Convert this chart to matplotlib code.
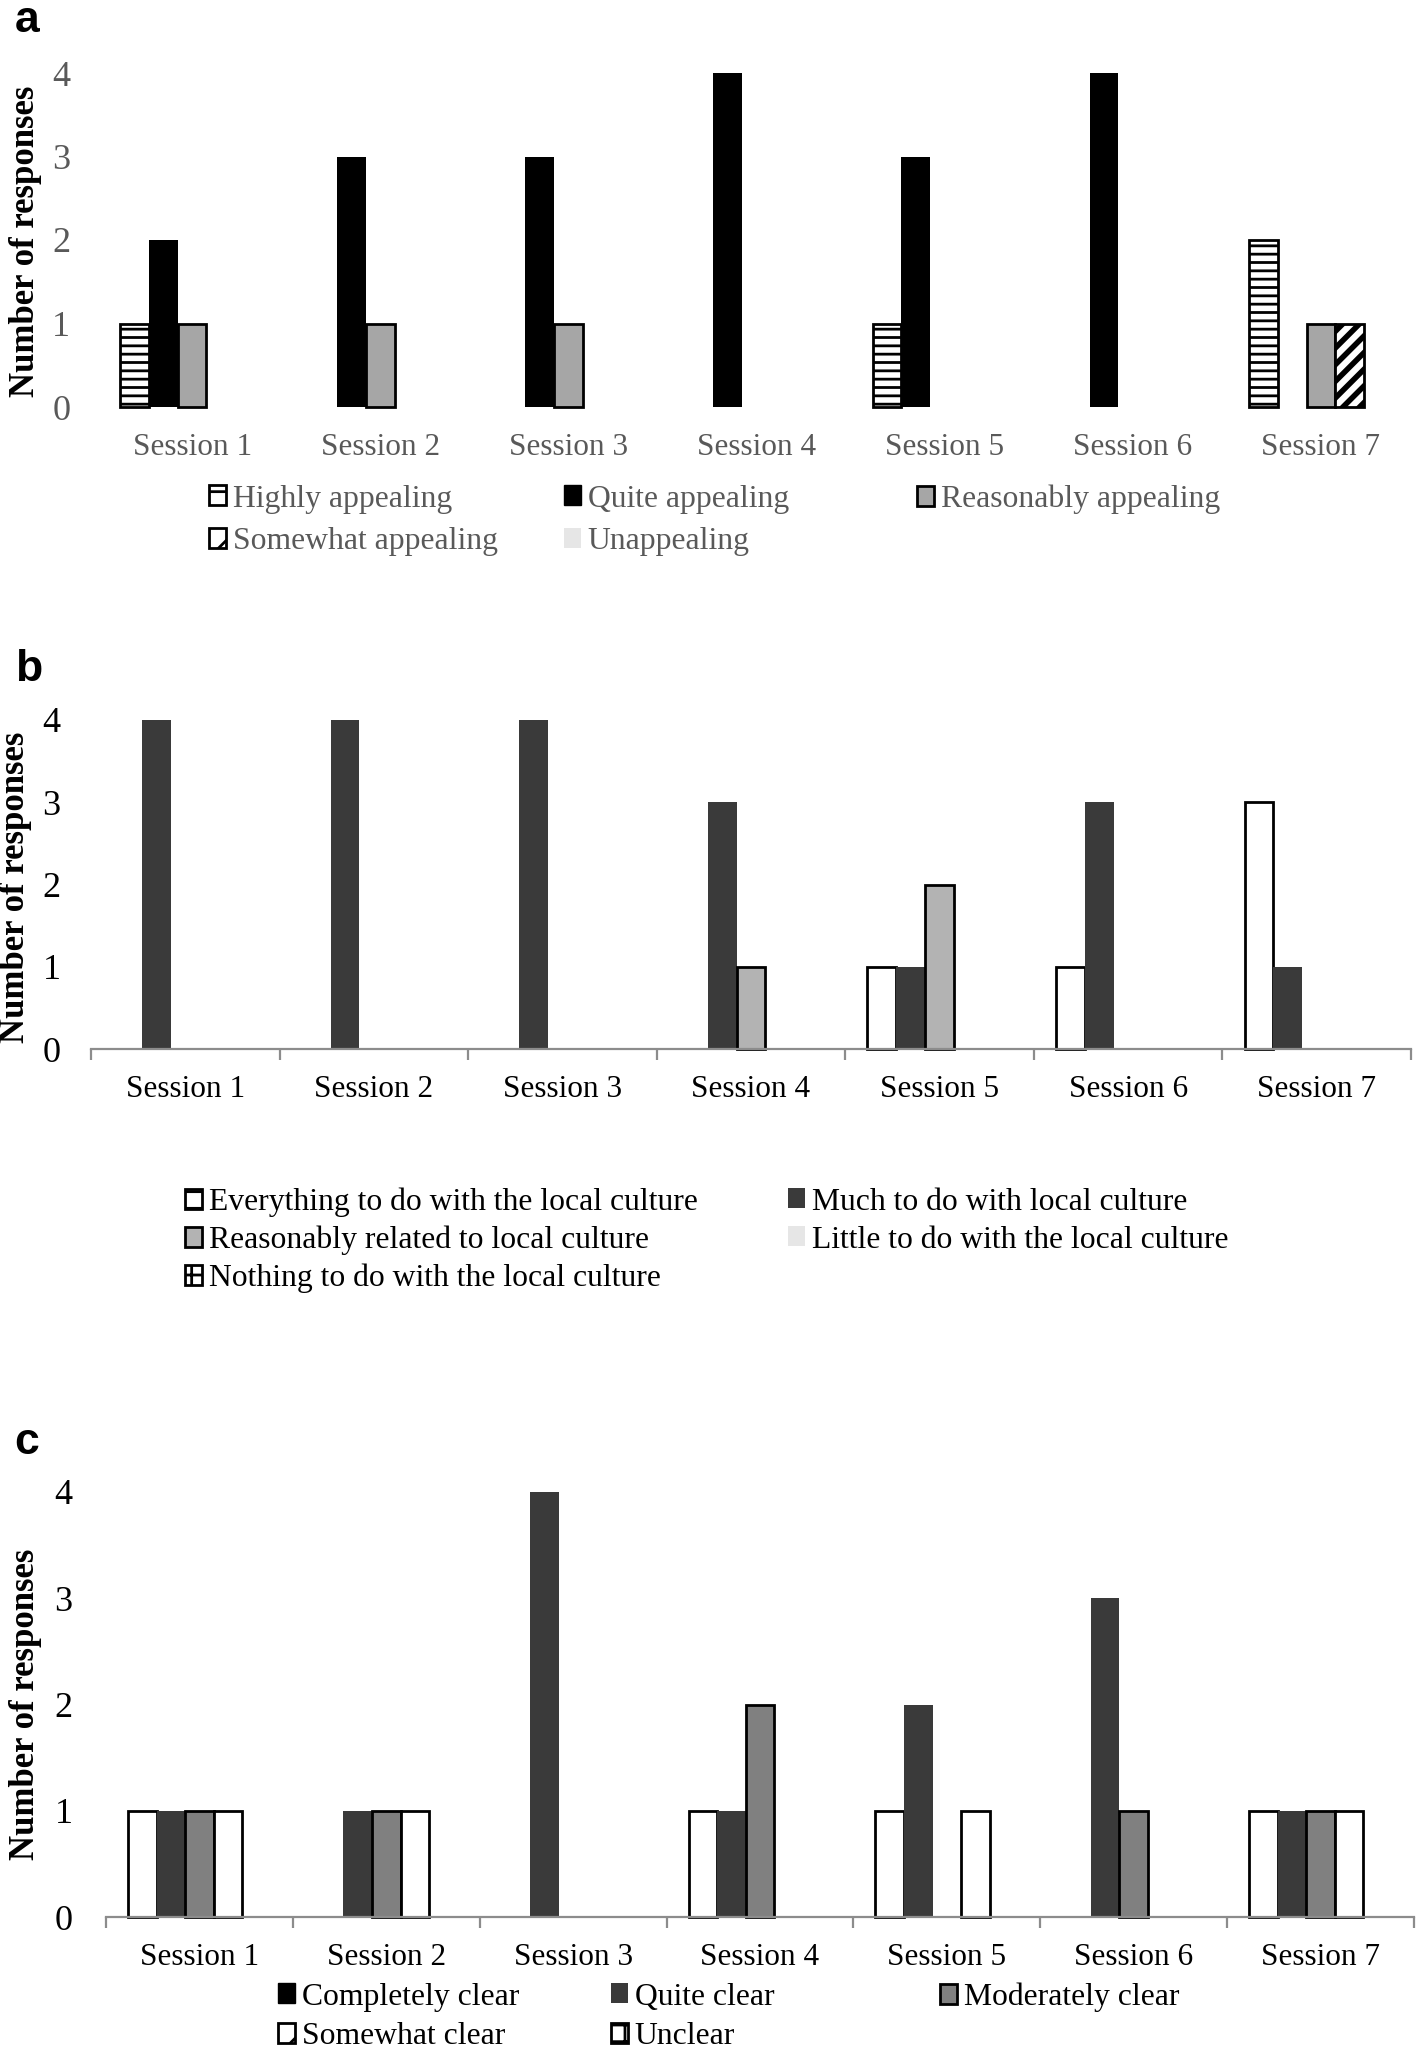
import numpy as np
import matplotlib
matplotlib.use("Agg")
import matplotlib.pyplot as plt
from matplotlib.patches import Patch

plt.rcParams['font.family'] = ['Liberation Serif', 'DejaVu Serif']
plt.rcParams['hatch.linewidth'] = 2.0

# ---- data ----
sessions = ['Session 1', 'Session 2', 'Session 3', 'Session 4',
            'Session 5', 'Session 6', 'Session 7']

# (a) appeal
appeal_labels = ['Highly appealing', 'Quite appealing', 'Reasonably appealing',
                 'Somewhat appealing', 'Unappealing']
highly_appealing = [1, 0, 0, 0, 1, 0, 2]
quite_appealing = [2, 3, 3, 4, 3, 4, 0]
reasonably_appealing = [1, 1, 1, 0, 0, 0, 1]
somewhat_appealing = [0, 0, 0, 0, 0, 0, 1]
unappealing = [0, 0, 0, 0, 0, 0, 0]

# (b) relation to local culture
culture_labels = ['Everything to do with the local culture', 'Much to do with local culture',
                  'Reasonably related to local culture', 'Little to do with the local culture',
                  'Nothing to do with the local culture']
everything_culture = [0, 0, 0, 0, 1, 1, 3]
much_culture = [4, 4, 4, 3, 1, 3, 1]
reasonably_culture = [0, 0, 0, 1, 2, 0, 0]
little_culture = [0, 0, 0, 0, 0, 0, 0]
nothing_culture = [0, 0, 0, 0, 0, 0, 0]

# (c) clarity
clarity_labels = ['Completely clear', 'Quite clear', 'Moderately clear',
                  'Somewhat clear', 'Unclear']
completely_clear = [1, 0, 0, 1, 1, 0, 1]
quite_clear = [1, 1, 4, 1, 2, 3, 1]
moderately_clear = [1, 1, 0, 2, 0, 1, 1]
somewhat_clear = [1, 1, 0, 0, 1, 0, 1]
unclear = [0, 0, 0, 0, 0, 0, 0]

W, H = 1416, 2047
fig = plt.figure(figsize=(W / 100, H / 100), dpi=100)
fig.patch.set_facecolor('white')

GRAY_TXT = '#595959'
AXIS_GRAY = '#8c8c8c'
BAR_W = 0.153
LEG_FS = 22.8


def px_axes(left, top, right, bottom):
    return fig.add_axes([left / W, 1 - bottom / H, (right - left) / W, (bottom - top) / H])


def draw_series(ax, series, styles):
    x = np.arange(len(sessions))
    n = len(series)
    for k, (vals, st) in enumerate(zip(series, styles)):
        vals = np.asarray(vals, dtype=float)
        keep = vals > 0
        if not keep.any():
            continue
        st = dict(st)
        hlw = st.pop('hatch_lw', 2.0)
        with plt.rc_context({'hatch.linewidth': hlw}):
            ax.bar(x[keep] + (k - (n - 1) / 2) * BAR_W, vals[keep], width=BAR_W,
                   clip_on=False, **st)


def style_axes(ax, txt_color, show_axis_line, ytick_pad):
    ax.set_xlim(-0.5, len(sessions) - 0.5)
    ax.set_ylim(0, 4)
    ax.set_yticks([0, 1, 2, 3, 4])
    ax.set_xticks(np.arange(len(sessions)))
    ax.set_xticklabels(sessions)
    for s in ['top', 'right', 'left']:
        ax.spines[s].set_visible(False)
    ax.tick_params(axis='y', length=0, pad=ytick_pad, labelsize=26, labelcolor=txt_color)
    ax.tick_params(axis='x', which='major', length=0, pad=18.5, labelsize=22.5, labelcolor=txt_color)
    if show_axis_line:
        ax.spines['bottom'].set_color(AXIS_GRAY)
        ax.spines['bottom'].set_linewidth(1.6)
        ax.set_xticks(np.arange(len(sessions) + 1) - 0.5, minor=True)
        ax.tick_params(axis='x', which='minor', length=8, width=1.6, color=AXIS_GRAY, direction='out')
    else:
        ax.spines['bottom'].set_visible(False)


def put_legend(handle, label, x, y, color):
    leg = fig.legend(handles=[handle], labels=[label], loc='center left',
                     bbox_to_anchor=(x / W, 1 - y / H), frameon=False, borderpad=0,
                     borderaxespad=0, handlelength=0.55, handleheight=0.6,
                     handletextpad=0.2, fontsize=LEG_FS, labelcolor=color)
    return leg


def ylabel(x, y):
    fig.text(x / W, 1 - y / H, 'Number of responses', rotation=90, ha='center', va='center',
             fontsize=25, fontweight='bold')


def panel_letter(s, x, y):
    fig.text(x / W, 1 - y / H, s, ha='center', va='center', fontsize=32,
             fontweight='bold', family='Liberation Sans')


# ---------------- panel a ----------------
ax_a = px_axes(98, 73, 1415, 407)
styles_a = [
    dict(color='white', edgecolor='black', linewidth=2, hatch='--'),
    dict(color='black', edgecolor='black', linewidth=0),
    dict(color='#a6a6a6', edgecolor='black', linewidth=2),
    dict(color='white', edgecolor='black', linewidth=2, hatch='//', hatch_lw=4.0),
    dict(color='#e6e6e6', edgecolor='none'),
]
draw_series(ax_a, [highly_appealing, quite_appealing, reasonably_appealing,
                   somewhat_appealing, unappealing], styles_a)
style_axes(ax_a, GRAY_TXT, False, 20)
ylabel(26, 241)
panel_letter('a', 27, 20)

hand_a = [
    Patch(facecolor='white', edgecolor='black', linewidth=2, hatch='-'),
    Patch(facecolor='black', edgecolor='black', linewidth=1),
    Patch(facecolor='#a6a6a6', edgecolor='black', linewidth=2),
    Patch(facecolor='white', edgecolor='black', linewidth=2, hatch='/'),
    Patch(facecolor='#e6e6e6', edgecolor='none'),
]
pos_a = [(209, 499), (564, 499), (917, 499), (209, 542), (564, 542)]
for h, lab, (px, py) in zip(hand_a, appeal_labels, pos_a):
    put_legend(h, lab, px, py, GRAY_TXT)

# ---------------- panel b ----------------
ax_b = px_axes(91, 720, 1411, 1049)
styles_b = [
    dict(color='white', edgecolor='black', linewidth=2),
    dict(color='#3a3a3a', edgecolor='none'),
    dict(color='#b3b3b3', edgecolor='black', linewidth=2),
    dict(color='#e6e6e6', edgecolor='none'),
    dict(color='white', edgecolor='black', linewidth=2, hatch='+'),
]
draw_series(ax_b, [everything_culture, much_culture, reasonably_culture,
                   little_culture, nothing_culture], styles_b)
style_axes(ax_b, 'black', True, 22)
ylabel(16, 887)
panel_letter('b', 29, 669)

hand_b = [
    Patch(facecolor='white', edgecolor='black', linewidth=2, hatch='-'),
    Patch(facecolor='#3a3a3a', edgecolor='none'),
    Patch(facecolor='#b3b3b3', edgecolor='black', linewidth=2),
    Patch(facecolor='#e6e6e6', edgecolor='none'),
    Patch(facecolor='white', edgecolor='black', linewidth=2, hatch='+'),
]
pos_b = [(185, 1202), (788, 1202), (185, 1240), (788, 1240), (185, 1278)]
for h, lab, (px, py) in zip(hand_b, culture_labels, pos_b):
    put_legend(h, lab, px, py, 'black')

# ---------------- panel c ----------------
ax_c = px_axes(106, 1492, 1414, 1917)
styles_c = [
    dict(color='white', edgecolor='black', linewidth=2),
    dict(color='#3a3a3a', edgecolor='none'),
    dict(color='#808080', edgecolor='black', linewidth=2),
    dict(color='white', edgecolor='black', linewidth=2),
    dict(color='white', edgecolor='black', linewidth=2, hatch='+'),
]
draw_series(ax_c, [completely_clear, quite_clear, moderately_clear,
                   somewhat_clear, unclear], styles_c)
style_axes(ax_c, 'black', True, 24)
ylabel(26, 1704)
panel_letter('c', 27, 1443)

hand_c = [
    Patch(facecolor='black', edgecolor='black', linewidth=1),
    Patch(facecolor='#3a3a3a', edgecolor='none'),
    Patch(facecolor='#808080', edgecolor='black', linewidth=2),
    Patch(facecolor='white', edgecolor='black', linewidth=2, hatch='/'),
    Patch(facecolor='white', edgecolor='black', linewidth=2, hatch='+'),
]
pos_c = [(278, 1997), (611, 1997), (940, 1997), (278, 2037), (611, 2037)]
for h, lab, (px, py) in zip(hand_c, clarity_labels, pos_c):
    put_legend(h, lab, px, py, 'black')

fig.savefig('out.png', dpi=100, facecolor='white')
